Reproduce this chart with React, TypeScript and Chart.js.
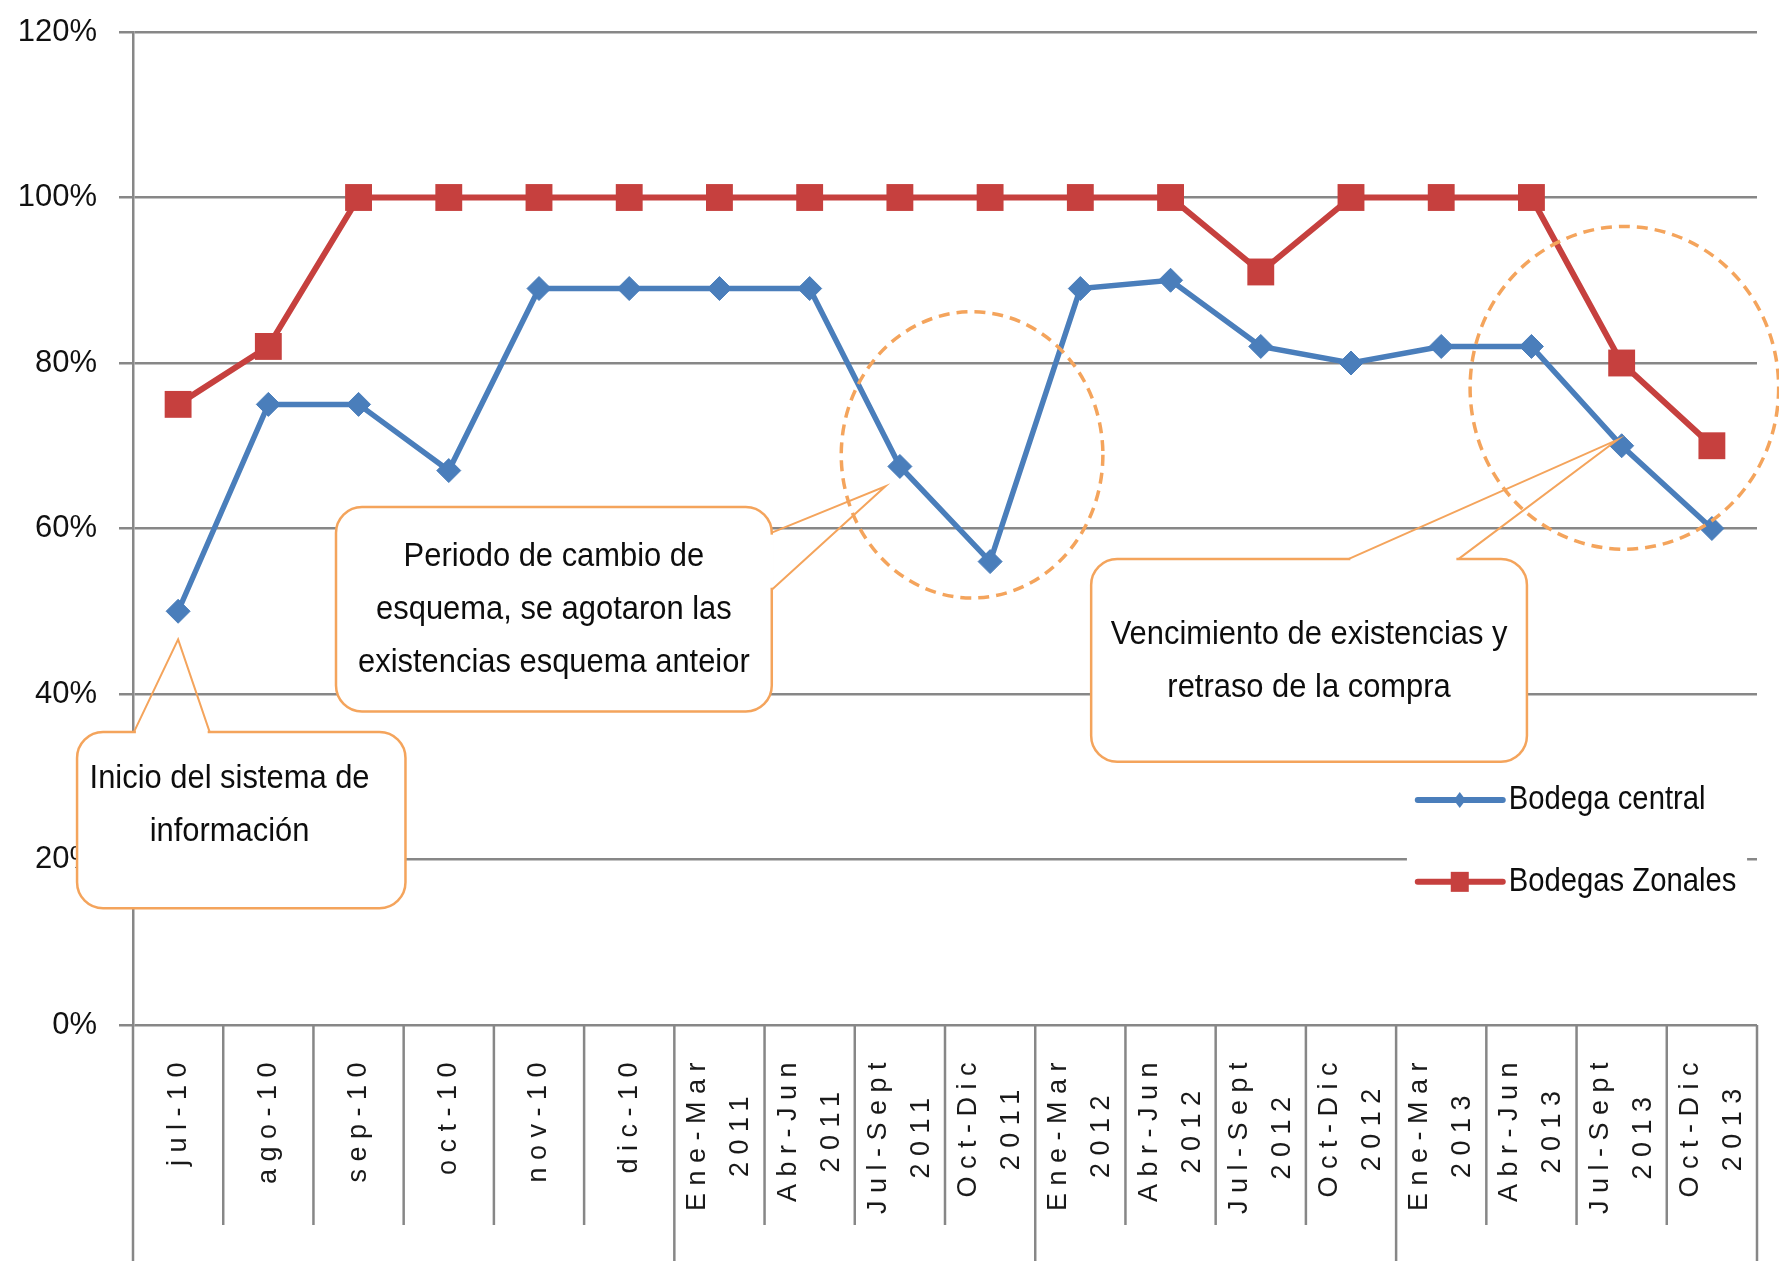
import React, { useEffect, useRef } from 'react';
import { Chart, registerables } from 'chart.js';

Chart.register(...registerables);

// ---- data ----
const categories: string[][] = [
  ['jul-10'], ['ago-10'], ['sep-10'], ['oct-10'], ['nov-10'], ['dic-10'],
  ['Ene-Mar', '2011'], ['Abr-Jun', '2011'], ['Jul-Sept', '2011'], ['Oct-Dic', '2011'],
  ['Ene-Mar', '2012'], ['Abr-Jun', '2012'], ['Jul-Sept', '2012'], ['Oct-Dic', '2012'],
  ['Ene-Mar', '2013'], ['Abr-Jun', '2013'], ['Jul-Sept', '2013'], ['Oct-Dic', '2013'],
];
const bodegaCentral = [50, 75, 75, 67, 89, 89, 89, 89, 67.5, 56, 89, 90, 82, 80, 82, 82, 70, 60];
const bodegasZonales = [75, 82, 100, 100, 100, 100, 100, 100, 100, 100, 100, 100, 91, 100, 100, 100, 80, 70];
const seriesNames = ['Bodega central', 'Bodegas Zonales'];
const yMin = 0;
const yMax = 120;
const yStep = 20;

// ---- annotations (anchored in category-index / percent units) ----
const callouts = [
  {
    lines: ['Inicio del sistema de', 'información'],
    box: [-1.12, 35.4, 2.52, 14.1],
    base: [[-0.49, 35.4], [0.35, 35.4]],
    tip: [0, 46.6],
    textY: 29.7,
    textDX: -0.13,
  },
  {
    lines: ['Periodo de cambio de', 'esquema, se agotaron las', 'existencias esquema anteior'],
    box: [1.75, 62.6, 6.58, 37.9],
    base: [[6.58, 59.5], [6.58, 52.6]],
    tip: [7.84, 65.1],
    textY: 56.6,
    textDX: 0,
  },
  {
    lines: ['Vencimiento de existencias y', 'retraso de la compra'],
    box: [10.12, 56.3, 14.95, 31.8],
    base: [[12.97, 56.3], [14.19, 56.3]],
    tip: [15.95, 70.7],
    textY: 47.1,
    textDX: 0,
  },
];
const circles = [
  { cx: 8.8, cy: 68.9, rx: 1.45, ry: 17.3 },
  { cx: 16.03, cy: 77, rx: 1.71, ry: 19.5 },
];

const BLUE = '#4a7ebb';
const RED = '#c6403e';
const GRID = '#878787';
const ORANGE = '#f4a45c';
const FONT = '"Liberation Sans", Arial, sans-serif';

const overlayPlugin = {
  id: 'overlay',
  afterDraw(chart: any) {
    const { ctx, scales } = chart;
    const xs = scales.x;
    const ys = scales.y;
    const px = (i: number) => xs.getPixelForValue(i);
    const py = (v: number) => ys.getPixelForValue(v);
    const unitX = px(1) - px(0);
    const unitY = py(0) - py(1);
    const H = chart.height;

    ctx.save();
    // category separators below the axis
    const groupOf = (lab: string[]) => (lab.length > 1 ? lab[1] : '2010');
    ctx.strokeStyle = GRID;
    ctx.lineWidth = 2.5;
    for (let i = 0; i <= categories.length; i++) {
      const bx = px(i - 0.5);
      const isLong =
        i === 0 || i === categories.length || groupOf(categories[i]) !== groupOf(categories[i - 1]);
      ctx.beginPath();
      ctx.moveTo(bx, xs.top);
      ctx.lineTo(bx, isLong ? H : xs.top + 200);
      ctx.stroke();
    }

    // x labels, rotated
    ctx.font = `27px ${FONT}`;
    (ctx as any).letterSpacing = '7.5px';
    ctx.fillStyle = '#1a1a1a';
    ctx.textAlign = 'center';
    ctx.textBaseline = 'middle';
    const lineH = 43;
    categories.forEach((lab, i) => {
      const widths = lab.map((l) => ctx.measureText(l).width);
      const blockW = Math.max(...widths);
      ctx.save();
      ctx.translate(px(i), xs.top + 30);
      ctx.rotate(-Math.PI / 2);
      lab.forEach((l, j) => {
        ctx.fillText(l, -blockW / 2, (j - (lab.length - 1) / 2) * lineH);
      });
      ctx.restore();
    });
    (ctx as any).letterSpacing = '0px';

    // dashed circles
    ctx.strokeStyle = ORANGE;
    ctx.lineWidth = 3.5;
    ctx.setLineDash([11, 7]);
    circles.forEach((c) => {
      ctx.beginPath();
      ctx.ellipse(px(c.cx), py(c.cy), c.rx * unitX, c.ry * unitY, 0, 0, Math.PI * 2);
      ctx.stroke();
    });
    ctx.setLineDash([]);

    // callouts
    callouts.forEach((c) => {
      const x1 = px(c.box[0]);
      const y1 = py(c.box[1]);
      const x2 = px(c.box[2]);
      const y2 = py(c.box[3]);
      const r = 26;
      ctx.beginPath();
      ctx.roundRect(x1, y1, x2 - x1, y2 - y1, r);
      ctx.fillStyle = '#ffffff';
      ctx.fill();
      ctx.strokeStyle = ORANGE;
      ctx.lineWidth = 2.5;
      ctx.stroke();
      // open the border where the pointer attaches
      const b1 = [px(c.base[0][0]), py(c.base[0][1])];
      const b2 = [px(c.base[1][0]), py(c.base[1][1])];
      const t = [px(c.tip[0]), py(c.tip[1])];
      ctx.strokeStyle = '#ffffff';
      ctx.lineWidth = 4;
      ctx.beginPath();
      const dx = b2[0] - b1[0];
      const dy = b2[1] - b1[1];
      const len = Math.hypot(dx, dy);
      ctx.moveTo(b1[0] + (dx / len) * 2, b1[1] + (dy / len) * 2);
      ctx.lineTo(b2[0] - (dx / len) * 2, b2[1] - (dy / len) * 2);
      ctx.stroke();
      ctx.strokeStyle = ORANGE;
      ctx.lineWidth = 2;
      ctx.beginPath();
      ctx.moveTo(b1[0], b1[1]);
      ctx.lineTo(t[0], t[1]);
      ctx.lineTo(b2[0], b2[1]);
      ctx.stroke();
      // text
      ctx.fillStyle = '#0d0d0d';
      ctx.font = `30px ${FONT}`;
      ctx.textAlign = 'center';
      ctx.textBaseline = 'middle';
      const cx = (x1 + x2) / 2 + c.textDX * unitX;
      const ty = py(c.textY);
      c.lines.forEach((l, j) => {
        ctx.save();
        ctx.translate(cx, ty + j * 53);
        ctx.scale(1.03, 1.1);
        ctx.fillText(l, 0, 0);
        ctx.restore();
      });
    });

    // legend
    ctx.fillStyle = '#ffffff';
    const lx1 = px(13.62);
    const ly1 = py(30.6);
    ctx.fillRect(lx1, ly1, px(17.39) - lx1, py(14.1) - ly1);
    const legendX = px(13.74);
    const rowY = [py(27.2), py(17.3)];
    const colors = [BLUE, RED];
    chart.data.datasets.forEach((ds: any, k: number) => {
      const yy = rowY[k];
      ctx.strokeStyle = colors[k];
      ctx.lineWidth = 6;
      ctx.lineCap = 'round';
      ctx.beginPath();
      ctx.moveTo(legendX, yy);
      ctx.lineTo(legendX + 85, yy);
      ctx.stroke();
      ctx.lineCap = 'butt';
      ctx.fillStyle = colors[k];
      const mx = legendX + 42;
      if (k === 0) {
        ctx.beginPath();
        ctx.moveTo(mx, yy - 8);
        ctx.lineTo(mx + 6, yy);
        ctx.lineTo(mx, yy + 8);
        ctx.lineTo(mx - 6, yy);
        ctx.closePath();
        ctx.fill();
      } else {
        ctx.fillRect(mx - 9, yy - 10, 18, 20);
      }
      ctx.fillStyle = '#0d0d0d';
      ctx.font = `30px ${FONT}`;
      ctx.textAlign = 'left';
      ctx.textBaseline = 'middle';
      ctx.save();
      ctx.translate(legendX + 91, yy);
      ctx.scale(0.975, 1.1);
      ctx.fillText(ds.label, 0, 0);
      ctx.restore();
    });
    ctx.restore();
  },
};

export default function App() {
  const ref = useRef<HTMLCanvasElement | null>(null);
  useEffect(() => {
    if (!ref.current) return;
    const chart = new Chart(ref.current, {
      type: 'line',
      data: {
        labels: categories.map((c) => c.join(' ')),
        datasets: [
          {
            label: seriesNames[0],
            data: bodegaCentral,
            borderColor: BLUE,
            backgroundColor: BLUE,
            borderWidth: 5.5,
            pointStyle: 'rectRot',
            pointRadius: 12,
            pointBorderWidth: 1,
            pointBackgroundColor: BLUE,
            pointBorderColor: BLUE,
            tension: 0,
          },
          {
            label: seriesNames[1],
            data: bodegasZonales,
            borderColor: RED,
            backgroundColor: RED,
            borderWidth: 6,
            pointStyle: 'rect',
            pointRadius: 19,
            pointBorderWidth: 0,
            pointBackgroundColor: RED,
            pointBorderColor: RED,
            tension: 0,
          },
        ],
      },
      options: {
        animation: false,
        responsive: false,
        maintainAspectRatio: false,
        layout: { padding: { top: 32, right: 22, left: 0, bottom: 0 } },
        plugins: { legend: { display: false }, tooltip: { enabled: false } },
        scales: {
          x: {
            offset: true,
            grid: { display: false },
            border: { display: false },
            ticks: { display: false },
            afterFit: (s: any) => {
              s.height = 236;
            },
          },
          y: {
            min: yMin,
            max: yMax,
            ticks: {
              stepSize: yStep,
              callback: (v: any) => `${v}%`,
              color: '#111111',
              font: { family: FONT, size: 31 },
              padding: 22,
            },
            grid: { color: GRID, lineWidth: 2.5, tickLength: 14 },
            border: { color: GRID, width: 2.5 },
            afterFit: (s: any) => {
              s.width = 133;
              s.paddingTop = 10;
              s.paddingBottom = 10;
            },
          },
        },
      },
      plugins: [overlayPlugin],
    } as any);
    return () => chart.destroy();
  }, []);
  return (
    <div style={{ position: 'fixed', left: 0, top: 0, width: 1779, height: 1261, background: '#fff' }}>
      <canvas ref={ref} width={1779} height={1261} style={{ width: 1779, height: 1261, display: 'block' }} />
    </div>
  );
}
